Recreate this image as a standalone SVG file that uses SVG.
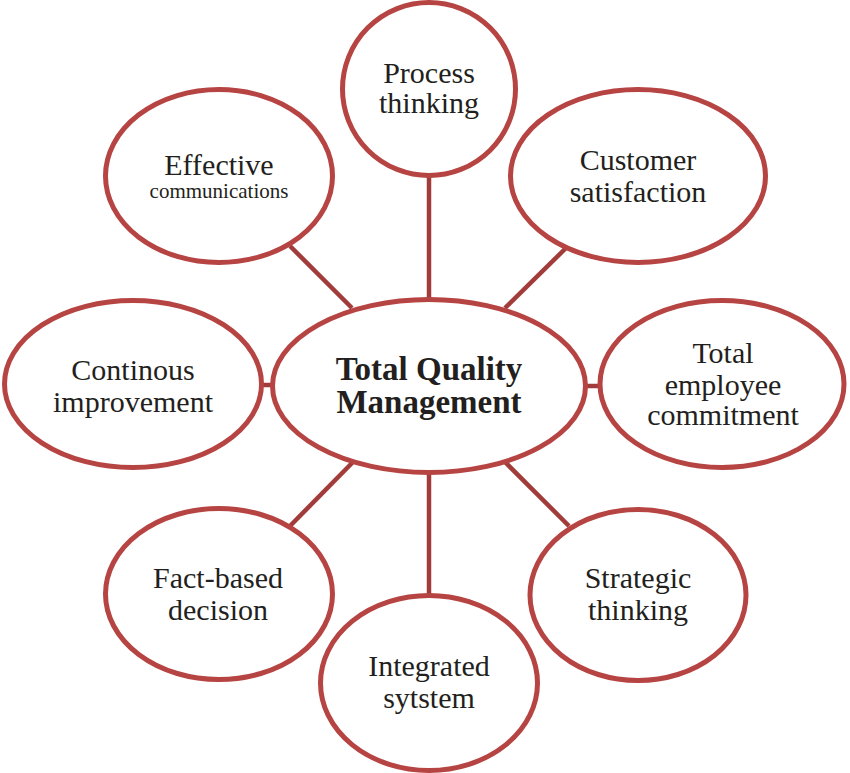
<svg xmlns="http://www.w3.org/2000/svg" width="850" height="773" viewBox="0 0 850 773">
<style>
.n{fill:#fff;stroke:#B64442;stroke-width:5}
.c line{stroke:#A23C3B;stroke-width:4.5}
text{font-family:"Liberation Serif","Times New Roman",serif;fill:#231F20;text-anchor:middle;font-size:30px}
.b{font-weight:bold;font-size:33px}
.s{font-size:21px}
</style>
<rect width="850" height="773" fill="#fff"/>
<g class="c" id="connectors">
<line x1="429" y1="175" x2="429" y2="300"/>
<line x1="290" y1="246" x2="352" y2="308"/>
<line x1="566" y1="248" x2="505" y2="308"/>
<line x1="260" y1="385" x2="273" y2="385"/>
<line x1="584" y1="386" x2="602" y2="386"/>
<line x1="290" y1="526" x2="353" y2="462"/>
<line x1="505" y1="462" x2="569" y2="526"/>
<line x1="429" y1="472" x2="429" y2="596"/>
</g>
<g id="process"><ellipse class="n" cx="429" cy="89" rx="86.5" ry="86.5"/><text x="429" y="83">Process</text><text x="429" y="113">thinking</text></g>
<g id="effective"><ellipse class="n" cx="219" cy="176" rx="113.5" ry="86.5"/><text x="219" y="175">Effective</text><text class="s" x="219" y="198">communications</text></g>
<g id="customer"><ellipse class="n" cx="638" cy="176" rx="127.5" ry="86.5"/><text x="638" y="170">Customer</text><text x="638" y="202">satisfaction</text></g>
<g id="continous"><ellipse class="n" cx="133" cy="384" rx="128.5" ry="83.5"/><text x="133" y="380">Continous</text><text x="133" y="412">improvement</text></g>
<g id="tqm"><ellipse class="n" cx="429" cy="386" rx="156.5" ry="86.5"/><text class="b" x="429" y="380">Total Quality</text><text class="b" x="429" y="413">Management</text></g>
<g id="employee"><ellipse class="n" cx="722" cy="384" rx="122" ry="83.5"/><text x="723" y="363">Total</text><text x="723" y="395">employee</text><text x="723" y="425">commitment</text></g>
<g id="fact"><ellipse class="n" cx="219" cy="594" rx="113.5" ry="85.5"/><text x="218" y="588">Fact-based</text><text x="218" y="620">decision</text></g>
<g id="strategic"><ellipse class="n" cx="638" cy="595" rx="108" ry="85.5"/><text x="638" y="588">Strategic</text><text x="638" y="620">thinking</text></g>
<g id="integrated"><ellipse class="n" cx="429" cy="683" rx="108.5" ry="87.5"/><text x="429" y="676">Integrated</text><text x="429" y="708">sytstem</text></g>
</svg>
